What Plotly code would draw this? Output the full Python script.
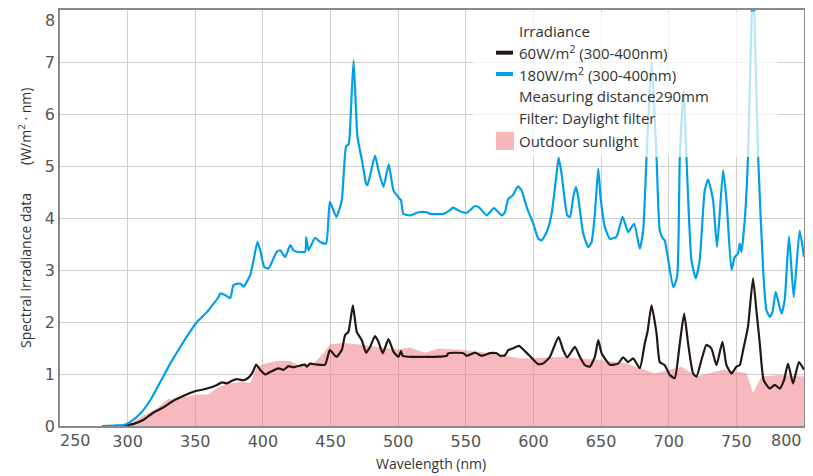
import plotly.graph_objects as go

# ---- data ----
wl_180 = [281, 290, 297, 302, 309.4, 316.8, 324.2, 331.5, 338.9, 348.7,
          351.2, 358.6, 367.2, 368.5, 372, 375.9, 378.3, 383.2, 385.7, 390.6,
          393.1, 396, 398, 401, 404.1, 410.3, 412.8, 416.5, 420.2, 422.6,
          425.1, 431.2, 432, 433.7, 438.6, 442.3, 446.7, 449.5, 454.3, 458.3,
          461.5, 463.2, 464, 467, 469.9, 473.2, 476.3, 477.3, 482.9, 485.4,
          489.1, 493, 496.5, 500.1, 502.1, 503.8, 508.8, 514.9, 521.1, 523.6,
          533.4, 538.3, 540.3, 545.7, 550.7, 556.8, 560, 565.4, 570.8, 576.5,
          578.9, 581.4, 584.6, 588.5, 591.3, 595, 599.9, 603.6, 606, 609.8,
          613.4, 617.1, 618.6, 620.8, 625, 627, 629.4, 631.4, 633.1, 636.8,
          640.5, 643, 645.4, 647.9, 649.6, 652.8, 656.5, 661.4, 665.9, 670,
          674.4, 678.6, 681.1, 683.6, 687.3, 691, 693.4, 695.9, 697.1, 703.3,
          706.2, 708.2, 711.1, 713.1, 716.8, 720, 722.9, 726.6, 729.1, 732.8,
          735.7, 740.2, 742.7, 746.4, 748.8, 751.3, 752.5, 753.8, 756.2, 758.6,
          762.3, 766.1, 769.8, 772.2, 774.7, 776.7, 779.1, 783.3, 785.7, 788.9,
          792.4, 796.8, 800]
irr_180 = [0.0, 0.01, 0.02, 0.08, 0.24, 0.50, 0.85, 1.20, 1.52, 1.91,
           2.00, 2.19, 2.48, 2.55, 2.52, 2.46, 2.71, 2.74, 2.68, 2.90,
           3.19, 3.54, 3.38, 3.06, 3.03, 3.35, 3.38, 3.25, 3.48, 3.38,
           3.35, 3.35, 3.63, 3.38, 3.62, 3.54, 3.51, 4.31, 4.02, 4.34,
           5.38, 5.41, 5.52, 7.03, 5.56, 5.11, 4.66, 4.63, 5.20, 4.92,
           4.60, 5.03, 4.53, 4.40, 4.34, 4.08, 4.05, 4.11, 4.11, 4.08,
           4.08, 4.15, 4.20, 4.13, 4.10, 4.23, 4.20, 4.05, 4.19, 4.05,
           4.11, 4.37, 4.43, 4.61, 4.53, 4.21, 3.89, 3.60, 3.57, 3.73,
           4.08, 4.85, 5.16, 4.85, 4.05, 4.02, 4.40, 4.60, 4.40, 3.70,
           3.44, 3.54, 4.08, 4.95, 4.40, 3.83, 3.60, 3.64, 4.02, 3.73,
           3.89, 3.41, 3.76, 5.17, 7.00, 5.17, 3.75, 3.60, 3.57, 2.67,
           2.87, 5.17, 6.45, 5.17, 3.19, 2.84, 3.19, 4.53, 4.74, 4.34,
           3.44, 4.92, 4.34, 3.00, 3.25, 3.32, 3.51, 3.35, 3.96, 5.17,
           8.60, 5.17, 3.00, 2.23, 2.10, 2.19, 2.58, 2.16, 2.42, 3.64,
           2.48, 3.76, 3.25]

wl_60 = [296, 304.4, 311.8, 319.2, 326.6, 334, 341.4, 348.7, 358.6, 366,
         369.7, 373.4, 377.1, 380.8, 385.7, 389.4, 392.6, 395, 398, 401.7,
         405.4, 411.5, 415.2, 418.9, 422.6, 431.2, 432.5, 434.9, 439.9, 446,
         449.5, 454.3, 458.3, 460.8, 463.2, 466.5, 469.4, 473.1, 476.3, 479.2,
         482.9, 485.4, 488.6, 492.8, 496.5, 500.1, 502.1, 503.4, 535.9, 537.1,
         548.2, 550.7, 556.8, 561.7, 567.9, 572.8, 575.3, 579, 581.4, 584.6,
         589.3, 593.7, 598.7, 603.5, 607.2, 612.2, 618.5, 622, 625, 630.6,
         634.3, 638, 641.7, 645.4, 647.9, 650.4, 656.5, 662.6, 666.3, 670,
         673.7, 678.6, 682.3, 684.3, 687.3, 691, 693.4, 697.1, 700.8, 704.4,
         708.2, 711.4, 714.3, 718, 720.5, 724.2, 727.9, 731.6, 735.3, 739.7,
         742.7, 746.4, 750.1, 752.5, 755, 758.6, 762.3, 764.8, 767.3, 770.2,
         774.7, 778.4, 782.1, 785.2, 788.2, 791.9, 796.3, 800]
irr_60 = [0.0, 0.04, 0.12, 0.26, 0.36, 0.49, 0.58, 0.66, 0.72, 0.79,
          0.84, 0.82, 0.87, 0.90, 0.88, 0.93, 1.04, 1.18, 1.08, 0.99,
          1.04, 1.11, 1.08, 1.15, 1.13, 1.18, 1.14, 1.20, 1.18, 1.18,
          1.46, 1.33, 1.46, 1.75, 1.81, 2.32, 1.81, 1.65, 1.41, 1.52,
          1.73, 1.62, 1.40, 1.67, 1.43, 1.33, 1.44, 1.35, 1.35, 1.40,
          1.40, 1.35, 1.41, 1.35, 1.40, 1.40, 1.35, 1.36, 1.46, 1.49,
          1.54, 1.44, 1.31, 1.19, 1.20, 1.33, 1.71, 1.46, 1.32, 1.52,
          1.33, 1.17, 1.14, 1.33, 1.65, 1.40, 1.18, 1.20, 1.32, 1.23,
          1.30, 1.11, 1.59, 1.81, 2.32, 1.78, 1.23, 1.17, 0.98, 0.92,
          1.59, 2.16, 1.59, 1.01, 0.95, 1.27, 1.56, 1.49, 1.17, 1.62,
          1.17, 1.01, 1.14, 1.17, 1.46, 1.91, 2.84, 2.23, 1.59, 0.88,
          0.72, 0.79, 0.72, 0.88, 1.20, 0.82, 1.23, 1.08]

wl_sun = [300, 309.4, 321.7, 330.3, 334, 341.4, 351.2, 359.8, 367.2, 375.9,
          385.7, 390.6, 395.6, 401.7, 410.3, 420.2, 427.5, 437.4, 444.8, 449.7,
          457.1, 462, 469.4, 486.6, 498.9, 508.8, 519.9, 529.7, 548.2, 565.4,
          577.7, 590, 602.4, 622, 634.3, 650.4, 668.8, 689.7, 709.5, 720.5,
          740.2, 757.5, 762.3, 768.5, 782.1, 800]
irr_sun = [0.00, 0.17, 0.34, 0.53, 0.50, 0.56, 0.60, 0.61, 0.75, 0.82,
           0.85, 0.82, 1.14, 1.20, 1.25, 1.25, 1.15, 1.20, 1.40, 1.57,
           1.59, 1.59, 1.57, 1.52, 1.47, 1.51, 1.41, 1.49, 1.46, 1.41,
           1.36, 1.30, 1.31, 1.33, 1.30, 1.27, 1.20, 1.01, 1.14, 0.95,
           1.08, 1.02, 0.63, 0.95, 0.98, 0.95]

x_ticks = [300, 350, 400, 450, 500, 550, 600, 650, 700, 750]
y_ticks = [0, 1, 2, 3, 4, 5, 6, 7]
x_edge_ticks = [250, 800]
y_top_tick = 8

x_title = "Wavelength (nm)"
y_title = "Spectral irradiance data\u3000\u3000(W/m<sup>2</sup> · nm)"
legend_title = "Irradiance"
name_60 = "60W/m<sup>2</sup> (300-400nm)"
name_180 = "180W/m<sup>2</sup> (300-400nm)"
note_1 = "Measuring distance290mm"
note_2 = "Filter: Daylight filter"
name_sun = "Outdoor sunlight"

BLUE = "#00a0e9"
BLACK = "#231815"
PINK_FILL = "rgba(240,128,135,0.55)"
PINK_SYM = "#f7b8bc"
TXT = "#333333"
TICK = "#555555"
FONT = "Open Sans"
TFONT = "DejaVu Sans"

# The page body has an 8px default margin; figure is sized to fit the window.
OFF = 8
WIN_W, WIN_H = 813, 476
W, H = WIN_W - OFF, WIN_H - OFF
# plot area in window pixels: x 60..804, y 10..426
L, T = 60 - OFF, 10 - OFF
R = WIN_W - 804
B = WIN_H - 426
PW, PH = W - L - R, H - T - B


def px(xp):  # window pixel x -> paper x
    return (xp - OFF - L) / PW


def py(yp):  # window pixel y -> paper y
    return (H - B - (yp - OFF)) / PH


fig = go.Figure()
fig.add_trace(go.Scatter(x=wl_sun, y=irr_sun, mode="lines", fill="tozeroy",
                         fillcolor=PINK_FILL, line=dict(width=0, color=PINK_SYM),
                         name=name_sun, showlegend=False, hoverinfo="skip"))
fig.add_trace(go.Scatter(x=wl_60, y=irr_60, mode="lines",
                         line=dict(color=BLACK, width=2.2, shape="spline", smoothing=0.5),
                         name=name_60, showlegend=False))
fig.add_trace(go.Scatter(x=wl_180, y=irr_180, mode="lines",
                         line=dict(color=BLUE, width=2.2, shape="spline", smoothing=0.5),
                         name=name_180, showlegend=False))

axis_common = dict(showline=True, mirror=True, linecolor="#8a8a8a", linewidth=1.5,
                   showgrid=True, gridcolor="#cfcfcf", gridwidth=1, zeroline=False,
                   automargin=False, ticks="",
                   tickfont=dict(family=TFONT, size=16, color=TICK))

fig.update_xaxes(range=[250, 800], tickvals=x_ticks, ticktext=[str(v) for v in x_ticks],
                 **axis_common)
fig.update_yaxes(range=[0, 8], tickvals=y_ticks, **axis_common)

tick_font = dict(family=TFONT, size=16, color=TICK)
annotations = [
    dict(x=x_edge_ticks[0], y=0, xref="x", yref="paper", text=str(x_edge_ticks[0]),
         showarrow=False, xanchor="left", yanchor="top", yshift=-3, xshift=-2,
         font=tick_font),
    dict(x=x_edge_ticks[1], y=0, xref="x", yref="paper", text=str(x_edge_ticks[1]),
         showarrow=False, xanchor="right", yanchor="top", yshift=-3,
         font=tick_font),
    dict(x=0, y=y_top_tick, xref="paper", yref="y", text=str(y_top_tick),
         showarrow=False, xanchor="right", yanchor="top", xshift=-3, yshift=1,
         font=tick_font),
    dict(x=px(431), y=py(463), xref="paper", yref="paper", text=x_title,
         showarrow=False, xanchor="center", yanchor="middle",
         font=dict(family=FONT, size=14, color=TXT)),
    dict(x=px(25), y=py(218), xref="paper", yref="paper", text=y_title,
         showarrow=False, xanchor="center", yanchor="middle", textangle=-90,
         font=dict(family=FONT, size=14, color=TXT)),
]
legend_rows = [(legend_title, 30.7), (name_60, 52.7), (name_180, 74.0),
               (note_1, 96.0), (note_2, 118.0), (name_sun, 140.5)]
for txt, yy in legend_rows:
    annotations.append(dict(x=px(517), y=py(yy), xref="paper", yref="paper", text=txt,
                            showarrow=False, xanchor="left", yanchor="middle",
                            font=dict(family=FONT, size=15, color=TXT)))

shapes = [
    # translucent legend background
    dict(type="rect", xref="paper", yref="paper", x0=px(473), x1=px(778),
         y0=py(157), y1=py(11.5), fillcolor="rgba(255,255,255,0.72)",
         line=dict(width=0), layer="above"),
    dict(type="line", xref="paper", yref="paper", x0=px(496), x1=px(513),
         y0=py(52.7), y1=py(52.7), line=dict(color=BLACK, width=4), layer="above"),
    dict(type="line", xref="paper", yref="paper", x0=px(496), x1=px(513),
         y0=py(74), y1=py(74), line=dict(color=BLUE, width=4), layer="above"),
    dict(type="rect", xref="paper", yref="paper", x0=px(496), x1=px(514),
         y0=py(150), y1=py(132), fillcolor=PINK_SYM, line=dict(width=0), layer="above"),
]

fig.update_layout(width=W, height=H, margin=dict(l=L, r=R, t=T, b=B),
                  paper_bgcolor="white", plot_bgcolor="white",
                  showlegend=False, annotations=annotations, shapes=shapes,
                  font=dict(family=FONT, color=TXT))

fig.write_html("out.html")
